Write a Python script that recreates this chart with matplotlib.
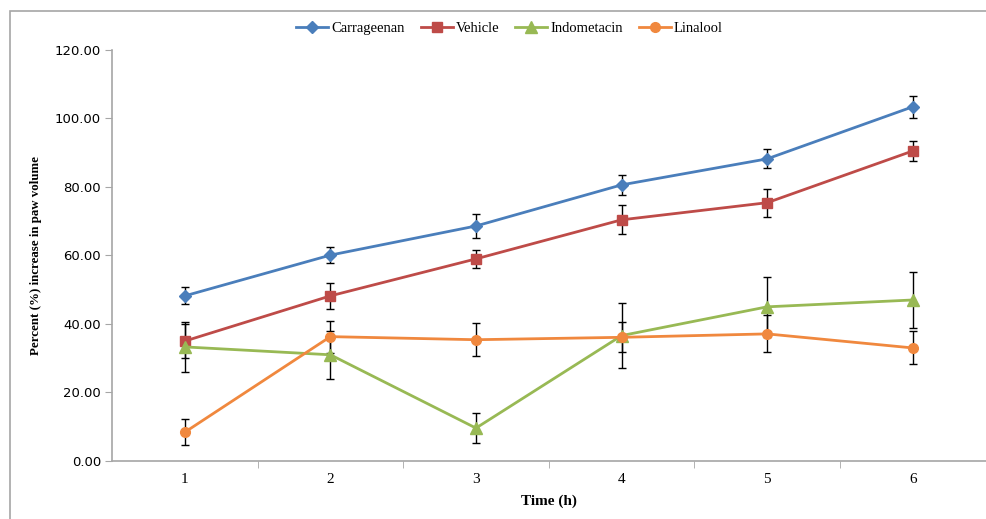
import matplotlib
matplotlib.use("Agg")
import matplotlib.pyplot as plt
from matplotlib.patches import Rectangle

# time points (h)
hours = [1, 2, 3, 4, 5, 6]

carrageenan = [48.2, 60.1, 68.6, 80.6, 88.2, 103.4]
carrageenan_err = [2.5, 2.4, 3.4, 3.0, 2.8, 3.2]

vehicle = [35.0, 48.2, 59.0, 70.4, 75.4, 90.5]
vehicle_err = [5.0, 3.7, 2.6, 4.2, 4.1, 2.9]

indometacin = [33.3, 31.0, 9.6, 36.6, 45.0, 47.0]
indometacin_err = [7.4, 7.0, 4.4, 9.4, 8.8, 8.2]

linalool = [8.4, 36.3, 35.4, 36.1, 37.1, 33.0]
linalool_err = [3.8, 4.7, 4.8, 4.4, 5.4, 4.8]

series = [
    ("Carrageenan", carrageenan, carrageenan_err, "#4a7ebb", "D", 6),
    ("Vehicle", vehicle, vehicle_err, "#be4b48", "s", 7),
    ("Indometacin", indometacin, indometacin_err, "#98b954", "^", 8),
    ("Linalool", linalool, linalool_err, "#f0883e", "o", 7),
]

fig = plt.figure(figsize=(9.87, 5.19), dpi=100)
ax = fig.add_axes([0.1135, 0.1118, 0.885, 0.792])

# outer chart border
fig.patches.append(Rectangle((10 / 987, -0.1), 1.2, 1.1 - 11 / 519,
                             transform=fig.transFigure, fill=False,
                             edgecolor="#a6a6a6", linewidth=1.2))

for name, vals, err, col, mk, ms in series:
    ax.errorbar(hours, vals, yerr=err, fmt="none", ecolor="black",
                elinewidth=1.0, capsize=3, capthick=1.0, zorder=2)
    ax.plot(hours, vals, color=col, marker=mk, markersize=ms,
            linewidth=2.0, label=name, zorder=3)

ax.set_xlim(0.5, 6.5)
ax.set_ylim(0, 120)
ax.set_yticks(range(0, 121, 20))
ax.set_yticklabels(["%.2f" % v for v in range(0, 121, 20)],
                   fontsize=9.5, family="DejaVu Sans")
ax.set_xticks(hours)
ax.set_xticklabels([str(h) for h in hours], fontsize=11,
                   family="Liberation Serif")
ax.set_xticks([1.5, 2.5, 3.5, 4.5, 5.5, 6.5], minor=True)
ax.tick_params(axis="x", which="major", length=0, pad=9)
ax.tick_params(axis="x", which="minor", length=5, color="#a6a6a6")
ax.tick_params(axis="y", length=5, color="#a6a6a6", pad=3)

for s in ["top", "right"]:
    ax.spines[s].set_visible(False)
for s in ["left", "bottom"]:
    ax.spines[s].set_color("#a6a6a6")
    ax.spines[s].set_linewidth(1.2)

ax.set_xlabel("Time (h)", fontsize=11, fontweight="bold",
              family="Liberation Serif", labelpad=6)
ax.set_ylabel("Percent (%) increase in paw volume", fontsize=9.3,
              fontweight="bold", family="Liberation Serif", labelpad=9)

leg = ax.legend(loc="upper center", bbox_to_anchor=(0.455, 1.1), ncol=4,
                frameon=False, prop={"family": "Liberation Serif", "size": 10.5},
                handlelength=2.2, handletextpad=0.2, columnspacing=1.1)

fig.savefig("out.png", dpi=100)
